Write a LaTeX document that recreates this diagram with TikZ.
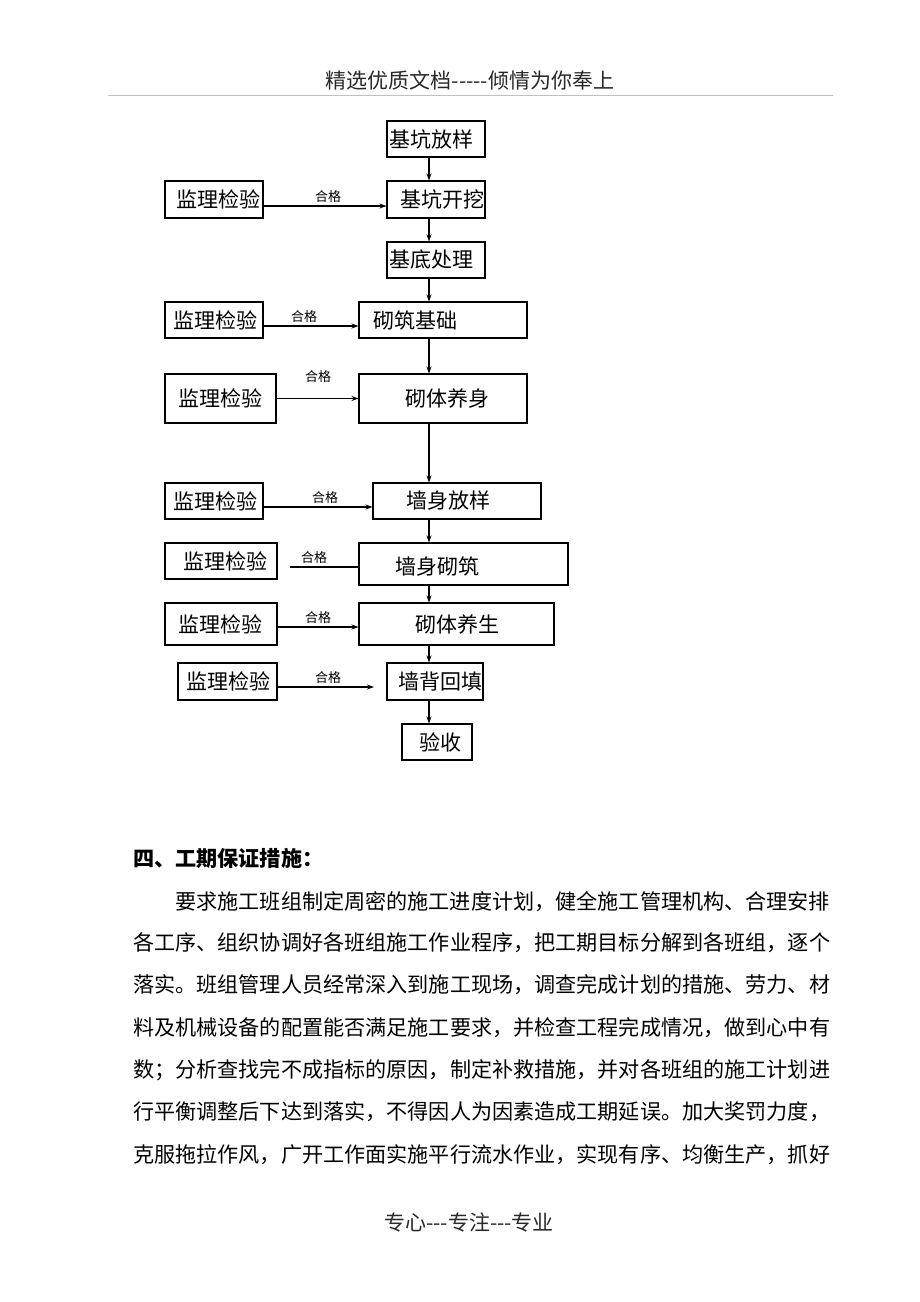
\documentclass[tikz,border=0pt]{standalone}
\usepackage{fontspec}
\setmainfont{Noto Sans CJK SC}
\usetikzlibrary{arrows.meta}
\definecolor{hdrline}{RGB}{200,185,205}
\definecolor{hdrtext}{RGB}{40,40,40}
\begin{document}
\begin{tikzpicture}[x=1pt,y=-1pt,
  box/.style={draw, line width=1.1pt, inner sep=0pt},
  lab/.style={font=\fontsize{21}{25}\selectfont, inner sep=0pt},
  arr/.style={line width=1.1pt,-{Stealth[length=7pt,width=5pt]}},
  ln/.style={line width=1.1pt},
  lbl/.style={font=\fontsize{13}{15}\selectfont, inner sep=0pt},
  body/.style={font=\fontsize{21.12}{25}\selectfont, inner sep=0pt, anchor=west},
]
\useasboundingbox (0,0) rectangle (920,1302);
\fill[white] (0,0) rectangle (920,1302);

% header
\node[font=\fontsize{21}{25}\selectfont, text=hdrtext, inner sep=0pt] (hd) at (470,80) {精选优质文档{-}{-}{-}{-}{-}倾情为你奉上};
\coordinate (hl1) at (108,95);
\coordinate (hl2) at (833,95);
\draw[hdrline, line width=1pt] (hl1) -- (hl2);

% spine
\coordinate (sp) at (429,0);

% main boxes
\node[box, minimum width=98pt, minimum height=36pt, label={[lab,xshift=-5pt]center:基坑放样}] (A) at (436,139) {};
\node[box, minimum width=98pt, minimum height=37pt, label={[lab,xshift=6pt]center:基坑开挖}] (B) at (436,199.5) {};
\node[box, minimum width=98pt, minimum height=36pt, label={[lab,xshift=-5pt]center:基底处理}] (C) at (436,260) {};
\node[box, minimum width=168pt, minimum height=36pt, label={[lab,xshift=-28pt]center:砌筑基础}] (D) at (443,320) {};
\node[box, minimum width=168pt, minimum height=49pt, label={[lab,xshift=4pt]center:砌体养身}] (E) at (443,398.5) {};
\node[box, minimum width=168pt, minimum height=36pt, label={[lab,xshift=-9pt]center:墙身放样}] (F) at (457,501) {};
\node[box, minimum width=209pt, minimum height=42pt, label={[lab,xshift=-26pt,yshift=-3pt]center:墙身砌筑}] (G) at (463.5,564) {};
\node[box, minimum width=195pt, minimum height=42pt, label={[lab,xshift=1pt]center:砌体养生}] (H) at (456.5,624) {};
\node[box, minimum width=96pt, minimum height=37pt, label={[lab,xshift=5pt]center:墙背回填}] (I) at (435,681.5) {};
\node[box, minimum width=70pt, minimum height=36pt, label={[lab,xshift=3pt]center:验收}] (J) at (437,742) {};

% inspection boxes
\node[box, minimum width=98pt, minimum height=37pt, label={[lab,xshift=4pt]center:监理检验}] (L1) at (214,199.5) {};
\node[box, minimum width=98pt, minimum height=36pt, label={[lab,xshift=1pt]center:监理检验}] (L2) at (214,320) {};
\node[box, minimum width=111pt, minimum height=49pt, label={[lab]center:监理检验}] (L3) at (220.5,398.5) {};
\node[box, minimum width=98pt, minimum height=36pt, label={[lab,xshift=1pt]center:监理检验}] (L4) at (214,501) {};
\node[box, minimum width=112pt, minimum height=36pt, label={[lab,xshift=4pt]center:监理检验}] (L5) at (221,561) {};
\node[box, minimum width=112pt, minimum height=42pt, label={[lab,xshift=-1pt]center:监理检验}] (L6) at (221,624) {};
\node[box, minimum width=99pt, minimum height=37pt, label={[lab,xshift=1pt]center:监理检验}] (L7) at (227.5,681.5) {};

% vertical flow
\draw[arr] (A.south -| sp) -- (B.north -| sp);
\draw[arr] (B.south -| sp) -- (C.north -| sp);
\draw[arr] (C.south -| sp) -- (D.north -| sp);
\draw[arr] (D.south -| sp) -- (E.north -| sp);
\draw[arr] (E.south -| sp) -- (F.north -| sp);
\draw[arr] (F.south -| sp) -- (G.north -| sp);
\draw[arr] (G.south -| sp) -- (H.north -| sp);
\draw[arr] (H.south -| sp) -- (I.north -| sp);
\draw[arr] (I.south -| sp) -- (J.north -| sp);

% inspection connectors
\draw[arr] ([yshift=-6.5pt]L1.east) -- ([yshift=-6.5pt]B.west);
\draw[arr] ([yshift=-6pt]L2.east) -- ([yshift=-6pt]D.west);
\draw[arr] (L3.east) -- (E.west);
\draw[arr] ([yshift=-6pt]L4.east) -- ([yshift=-6pt]F.west);
\coordinate (c5) at (290,567);
\draw[ln] (c5) -- (c5 -| G.west);
\draw[arr] ([yshift=-3pt]L6.east) -- ([yshift=-3pt]H.west);
\coordinate (c7) at (374,687);
\draw[arr] (L7.east |- c7) -- (c7);

% labels
\node[lbl] (g1) at (328,197) {合格};
\node[lbl] (g2) at (304,317) {合格};
\node[lbl] (g3) at (318,377) {合格};
\node[lbl] (g4) at (325,498) {合格};
\node[lbl] (g5) at (314,558) {合格};
\node[lbl] (g6) at (318,618) {合格};
\node[lbl] (g7) at (328,678) {合格};

% body text
\node[body, font=\fontsize{21.12}{25}\selectfont\bfseries] (t0) at (133,858) {四、工期保证措施：};
\node[body] (t1) at (175.2,902) {要求施工班组制定周密的施工进度计划，健全施工管理机构、合理安排};
\node[body] (t2) at (133,943) {各工序、组织协调好各班组施工作业程序，把工期目标分解到各班组，逐个};
\node[body] (t3) at (133,985) {落实。班组管理人员经常深入到施工现场，调查完成计划的措施、劳力、材};
\node[body] (t4) at (133,1028) {料及机械设备的配置能否满足施工要求，并检查工程完成情况，做到心中有};
\node[body] (t5) at (133,1070) {数；分析查找完不成指标的原因，制定补救措施，并对各班组的施工计划进};
\node[body] (t6) at (133,1112) {行平衡调整后下达到落实，不得因人为因素造成工期延误。加大奖罚力度，};
\node[body] (t7) at (133,1155) {克服拖拉作风，广开工作面实施平行流水作业，实现有序、均衡生产，抓好};

% footer
\node[font=\fontsize{21}{25}\selectfont, text=hdrtext, inner sep=0pt] (ft) at (469,1222) {专心{-}{-}{-}专注{-}{-}{-}专业};
\end{tikzpicture}
\end{document}
